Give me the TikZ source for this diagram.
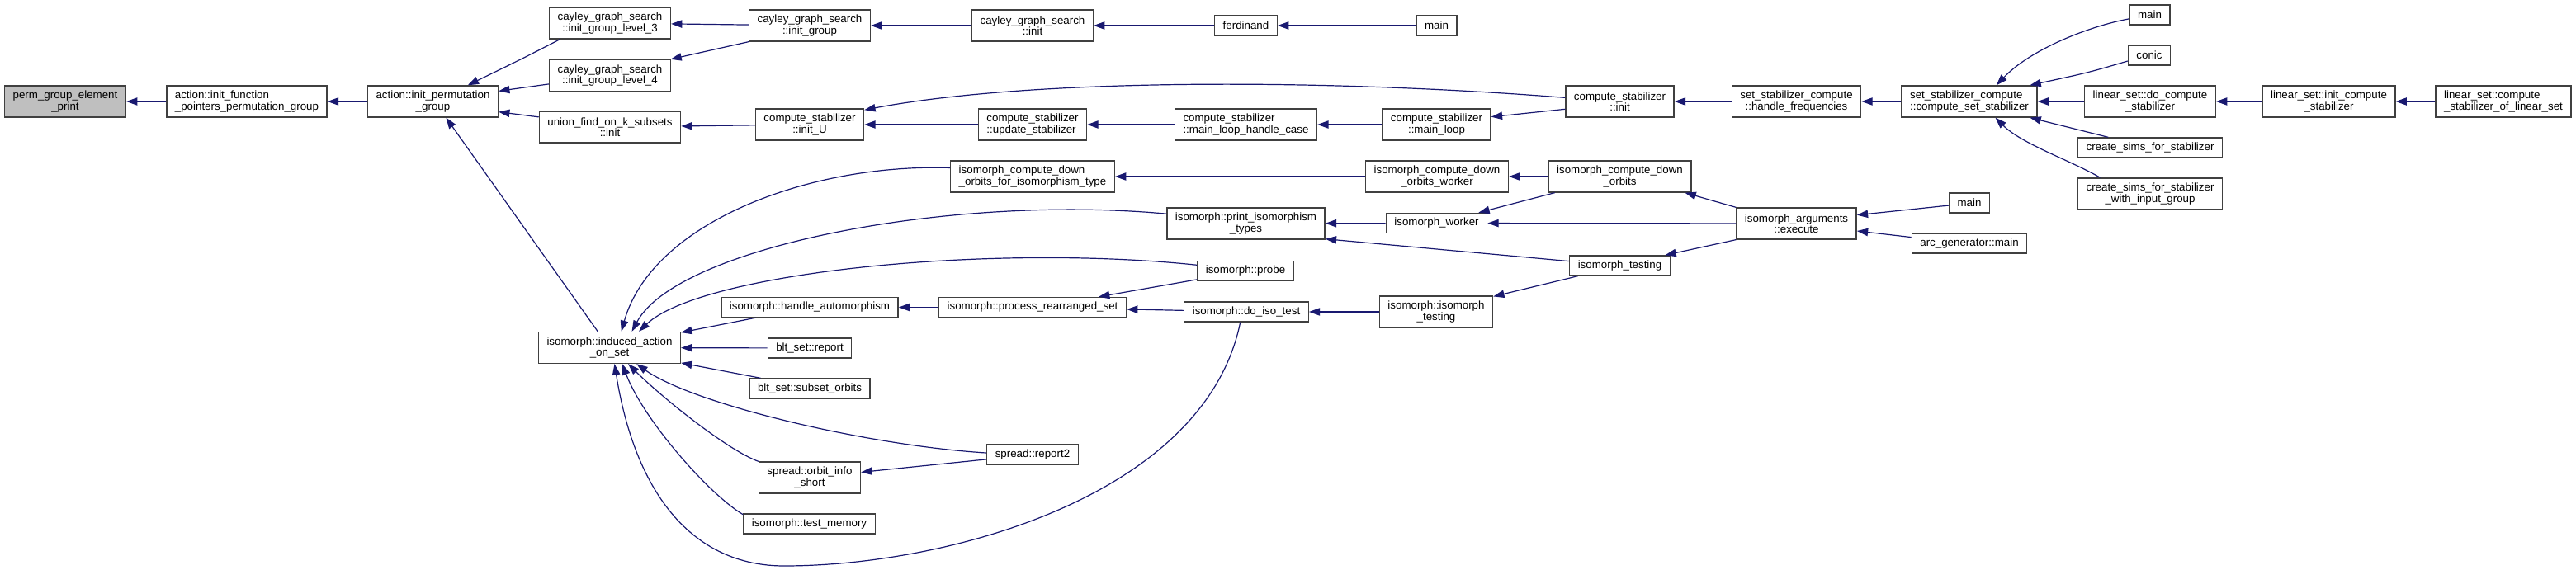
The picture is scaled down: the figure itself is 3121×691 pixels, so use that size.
\documentclass[tikz,border=0pt]{standalone}
\usepackage{fontspec}
\setmainfont{Liberation Sans}
\usetikzlibrary{arrows.meta}
\definecolor{edgeblue}{RGB}{25,25,112}
\tikzset{
  fn/.style={draw=black!75, line width=1pt, fill=white, inner xsep=7.5pt, inner ysep=1pt,
    minimum height=18pt, font=\fontsize{10}{10}\selectfont},
  fnn/.style={fn, minimum height=28.5pt, align=center},
  fnl/.style={fn, minimum height=28.5pt, align=left},
  calledge/.style={draw=edgeblue, line width=0.9pt, -{Triangle[length=10pt,width=7pt]}}
}

\begin{document}
\begin{tikzpicture}[x=0.75pt,y=-0.75pt]
        \useasboundingbox (0,0) rectangle (3121,691);
        % functions
        \node[fnn, fill=black!25] (pgep) at (79,123) {perm\_group\_element\\\_print};
        \node[fnl] (afp) at (299,123) {action::init\_function\\\_pointers\_permutation\_group};
        \node[fnn] (aipg) at (524.5,123) {action::init\_permutation\\\_group};
        \node[fnn] (cgl3) at (739,28) {cayley\_graph\_search\\::init\_group\_level\_3};
        \node[fnn] (cgl4) at (739,91.5) {cayley\_graph\_search\\::init\_group\_level\_4};
        \node[fnn] (ufk) at (739,154) {union\_find\_on\_k\_subsets\\::init};
        \node[fnn] (iaos) at (738.5,421.5) {isomorph::induced\_action\\\_on\_set};
        \node[fnn] (cgig) at (981,31) {cayley\_graph\_search\\::init\_group};
        \node[fnn] (cgi) at (1251,31) {cayley\_graph\_search\\::init};
        \node[fn] (ferd) at (1509.5,31) {ferdinand};
        \node[fn] (main1) at (1740.5,31) {main};
        \node[fnn] (csiu) at (981,151) {compute\_stabilizer\\::init\_U};
        \node[fnl] (csus) at (1251,151) {compute\_stabilizer\\::update\_stabilizer};
        \node[fnl] (csmlhc) at (1509.5,151) {compute\_stabilizer\\::main\_loop\_handle\_case};
        \node[fnn] (csml) at (1740.5,151) {compute\_stabilizer\\::main\_loop};
        \node[fnn] (csi) at (1962.5,123) {compute\_stabilizer\\::init};
        \node[fnn] (sshf) at (2176.5,123) {set\_stabilizer\_compute\\::handle\_frequencies};
        \node[fnl] (sscss) at (2386,123) {set\_stabilizer\_compute\\::compute\_set\_stabilizer};
        \node[fn] (main2) at (2604.5,18) {main};
        \node[fn] (conic) at (2604,67) {conic};
        \node[fnn] (lsdcs) at (2605,123) {linear\_set::do\_compute\\\_stabilizer};
        \node[fn] (csfs) at (2605,179) {create\_sims\_for\_stabilizer};
        \node[fnn] (csfswig) at (2605,235) {create\_sims\_for\_stabilizer\\\_with\_input\_group};
        \node[fnn] (lsics) at (2821.5,123) {linear\_set::init\_compute\\\_stabilizer};
        \node[fnl] (lscsls) at (3033,123) {linear\_set::compute\\\_stabilizer\_of\_linear\_set};
        \node[fnl] (icdoit) at (1251,214) {isomorph\_compute\_down\\\_orbits\_for\_isomorphism\_type};
        \node[fnn] (icdow) at (1741,214) {isomorph\_compute\_down\\\_orbits\_worker};
        \node[fnn] (icdo) at (1962.5,214) {isomorph\_compute\_down\\\_orbits};
        \node[fnn] (ipit) at (1509.5,271) {isomorph::print\_isomorphism\\\_types};
        \node[fn] (iw) at (1740.5,270.5) {isomorph\_worker};
        \node[fnn] (iae) at (2176.5,271) {isomorph\_arguments\\::execute};
        \node[fn] (main3) at (2386,246) {main};
        \node[fn] (arcg) at (2386,295) {arc\_generator::main};
        \node[fn] (itest) at (1962.5,322) {isomorph\_testing};
        \node[fnn] (iit) at (1740,378) {isomorph::isomorph\\\_testing};
        \node[fn] (probe) at (1509,328.5) {isomorph::probe};
        \node[fn] (hauto) at (981,372.5) {isomorph::handle\_automorphism};
        \node[fn] (prs) at (1251,372.5) {isomorph::process\_rearranged\_set};
        \node[fn] (dit) at (1510,378) {isomorph::do\_iso\_test};
        \node[fn] (bltr) at (981,422) {blt\_set::report};
        \node[fn] (blso) at (981,471) {blt\_set::subset\_orbits};
        \node[fn] (sr2) at (1251,551) {spread::report2};
        \node[fnn] (soi) at (981,579) {spread::orbit\_info\\\_short};
        \node[fn] (itm) at (980.5,635) {isomorph::test\_memory};
        % calls
        \draw[calledge] (afp) -- (pgep);
        \draw[calledge] (aipg) -- (afp);
        \draw[calledge] (cgl3.-162) .. controls (635,70) .. (aipg.25);
        \draw[calledge] (cgl4.-172) -- (aipg.9);
        \draw[calledge] (ufk.172) -- (aipg.-9);
        \draw[calledge] (iaos.126) -- (aipg.-51);
        \draw[calledge] (cgig) -- (cgl3);
        \draw[calledge] (cgig.south west) -- (cgl4.15);
        \draw[calledge] (cgi) -- (cgig);
        \draw[calledge] (ferd) -- (cgi);
        \draw[calledge] (main1) -- (ferd);
        \draw[calledge] (csiu) -- (ufk);
        \draw[calledge] (csus) -- (csiu);
        \draw[calledge] (csi.176) .. controls (1600,95) and (1250,95) .. (csiu.15);
        \draw[calledge] (csmlhc) -- (csus);
        \draw[calledge] (csml) -- (csmlhc);
        \draw[calledge] (csi.-172) -- (csml.8);
        \draw[calledge] (sshf) -- (csi);
        \draw[calledge] (sscss) -- (sshf);
        \draw[calledge] (main2.-169) .. controls (2530,32) and (2460,60) .. (sscss.31);
        \draw[calledge] (conic.-165) .. controls (2530,88) .. (sscss.15);
        \draw[calledge] (lsdcs) -- (sscss);
        \draw[calledge] (csfs.166) -- (sscss.-15);
        \draw[calledge] (csfswig.162) .. controls (2510,195) and (2450,175) .. (sscss.-32);
        \draw[calledge] (lsics) -- (lsdcs);
        \draw[calledge] (lscsls) -- (lsics);
        \draw[calledge] (icdoit.174) .. controls (980,198) and (790,270) .. (iaos.54);
        \draw[calledge] (ipit.173) .. controls (1150,235) and (820,300) .. (iaos.36);
        \draw[calledge] (probe.173) .. controls (1200,295) and (850,330) .. (iaos.29);
        \draw[calledge] (hauto.-169) -- (iaos.12);
        \draw[calledge] (bltr) -- (iaos);
        \draw[calledge] (blso.168) -- (iaos.-12);
        \draw[calledge] (sr2.178) .. controls (1050,540) and (840,490) .. (iaos.-31);
        \draw[calledge] (soi.north west) .. controls (880,545) and (800,480) .. (iaos.-41);
        \draw[calledge] (itm.172) .. controls (860,600) and (780,510) .. (iaos.-52);
        \draw[calledge] (dit.-120) .. controls (1460,600) and (1150,686) .. (950,686)
          .. controls (840,686) and (770,600) .. (iaos.-73);
        \draw[calledge] (prs) -- (hauto);
        \draw[calledge] (probe.-170) -- (prs.9);
        \draw[calledge] (dit) -- (prs);
        \draw[calledge] (iit) -- (dit);
        \draw[calledge] (itest.-166) -- (iit.15);
        \draw[calledge] (iw) -- (ipit);
        \draw[calledge] (itest.175) -- (ipit.-11);
        \draw[calledge] (icdow) -- (icdoit);
        \draw[calledge] (icdo) -- (icdow);
        \draw[calledge] (icdo.-166) -- (iw.14);
        \draw[calledge] (iae.165) -- (icdo.-14);
        \draw[calledge] (iae) -- (iw);
        \draw[calledge] (iae.-165) -- (itest.13);
        \draw[calledge] (main3.-173) -- (iae.8);
        \draw[calledge] (arcg.174) -- (iae.-7);
        \draw[calledge] (sr2.-174) -- (soi.6);
      \end{tikzpicture}
\end{document}
